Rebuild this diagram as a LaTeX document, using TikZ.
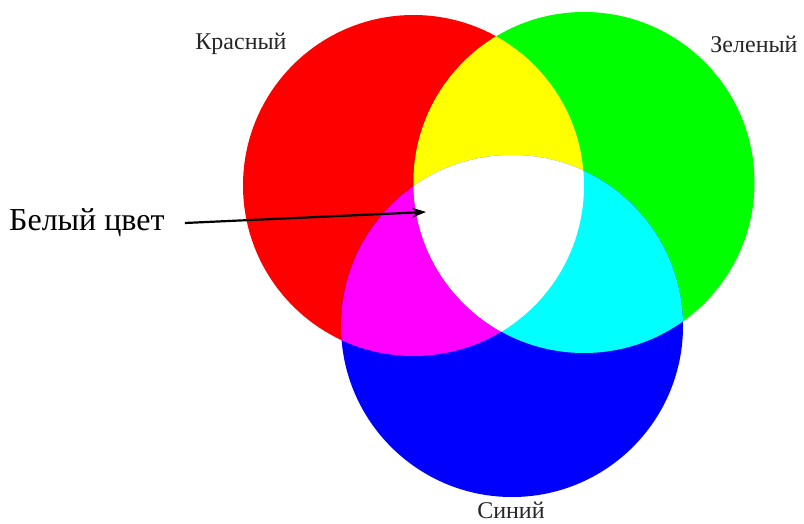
\documentclass[tikz,border=0pt]{standalone}
\usepackage{fontspec}
\setmainfont{Liberation Serif}
\usetikzlibrary{arrows.meta}
\definecolor{rr}{RGB}{255,0,0}
\definecolor{gg}{RGB}{0,255,0}
\definecolor{bb}{RGB}{0,0,255}
\definecolor{yy}{RGB}{255,255,0}
\definecolor{mm}{RGB}{255,0,255}
\definecolor{cc}{RGB}{0,255,255}
\tikzset{
  lbl/.style={font=\fontsize{24}{26}\selectfont, inner sep=0pt, text=black!85},
  bigtxt/.style={font=\fontsize{32}{34}\selectfont, inner sep=0pt, anchor=west},
  pointer/.style={line width=2.2pt, -{Stealth[length=14pt,width=10pt]}}
}
\begin{document}
\begin{tikzpicture}[x=1pt,y=-1pt]
\useasboundingbox (0,0) rectangle (804,523);
\def\rR{(413.5,185.5) circle[radius=170.5]}
\def\rG{(584,182.5) circle[radius=170.5]}
\def\rB{(512,326) circle[radius=171]}
% primaries
\fill[rr] \rR;
\fill[gg] \rG;
\fill[bb] \rB;
% secondaries
\begin{scope}\clip \rR; \fill[yy] \rG; \end{scope}
\begin{scope}\clip \rR; \fill[mm] \rB; \end{scope}
\begin{scope}\clip \rG; \fill[cc] \rB; \end{scope}
\begin{scope}\clip \rR; \clip \rG; \fill[white] \rB; \end{scope}
% labels
\node[lbl] (red) at (241,44) {Красный};
\node[lbl] (green) at (754,44) {Зеленый};
\node[lbl] (blue) at (511,510) {Синий};
\node[bigtxt] (white) at (9,223) {Белый цвет};
\coordinate (tip) at (426,212);
\draw[pointer] ([xshift=20pt]white.east) -- (tip);
\end{tikzpicture}
\end{document}
